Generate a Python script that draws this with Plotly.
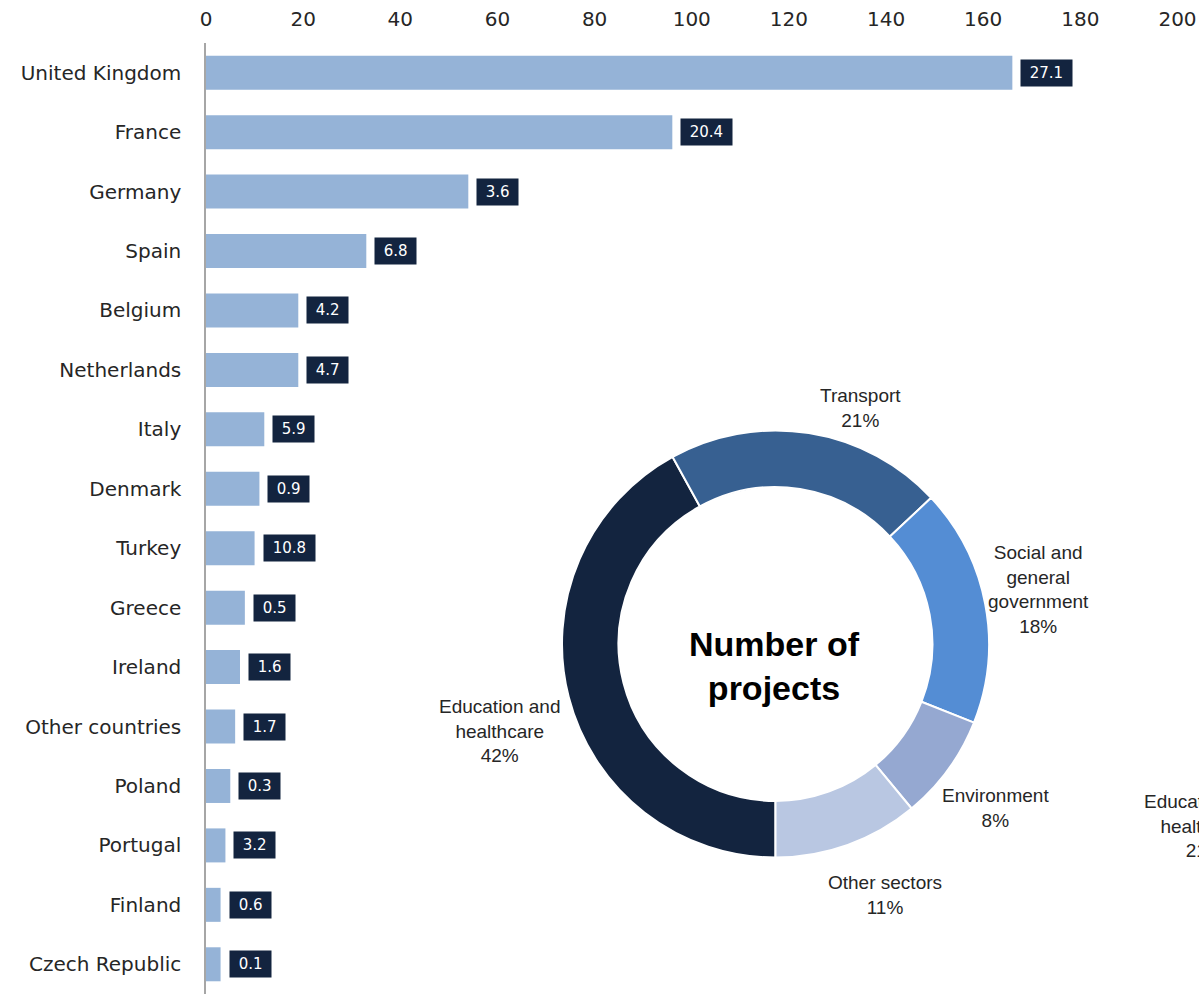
import plotly.graph_objects as go

# ---------------- data ----------------
countries = ["United Kingdom", "France", "Germany", "Spain", "Belgium", "Netherlands",
             "Italy", "Denmark", "Turkey", "Greece", "Ireland", "Other countries",
             "Poland", "Portugal", "Finland", "Czech Republic"]
projects = [166, 96, 54, 33, 19, 19, 12, 11, 10, 8, 7, 6, 5, 4, 3, 3]
value_labels = ["27.1", "20.4", "3.6", "6.8", "4.2", "4.7", "5.9", "0.9", "10.8",
                "0.5", "1.6", "1.7", "0.3", "3.2", "0.6", "0.1"]
x_ticks = [0, 20, 40, 60, 80, 100, 120, 140, 160, 180, 200]

sectors = ["Education and healthcare", "Transport", "Social and general government",
           "Environment", "Other sectors"]
sector_share = [42, 21, 18, 8, 11]
sector_text = ["Education and<br>healthcare", "Transport", "Social and<br>general<br>government",
               "Environment", "Other sectors"]
sector_colors = ["#13243F", "#376091", "#548DD4", "#95A8D1", "#B9C7E2"]
donut_title = "Number of<br>projects"
partial_label = "Education and<br>healthcare<br>21%"

# ---------------- layout helpers ----------------
W, H = 1199, 994
MT, MB, ML, MR = 43, 0, 0, 0
PH = H - MT - MB


def fx(px):
    return (px - ML) / (W - ML - MR)


def fy(py):
    return (H - MB - py) / PH


fig = go.Figure()

fig.add_trace(go.Bar(
    y=countries, x=projects, orientation="h",
    marker=dict(color="#95B3D7", line=dict(width=0)),
    hoverinfo="x+y", showlegend=False,
))

annotations = []
for c, v, t in zip(countries, projects, value_labels):
    annotations.append(dict(
        x=v, y=c, xref="x", yref="y", text="\u00a0" + t + "\u00a0",
        showarrow=False, xanchor="left", yanchor="middle", xshift=8,
        bgcolor="#13243F", borderpad=4,
        font=dict(family="DejaVu Sans", size=15, color="white"),
    ))

# donut
fig.add_trace(go.Pie(
    labels=sectors, values=sector_share, hole=0.735, sort=False,
    direction="clockwise", rotation=180,
    marker=dict(colors=sector_colors, line=dict(color="white", width=2)),
    textinfo="none", showlegend=False,
    domain=dict(x=[fx(562), fx(989)], y=[fy(858), fy(430)]),
))

label_pos = [(500, 731), (860, 408), (1038, 589), (995, 808), (885, 895)]
for txt, share, (lx, ly) in zip(sector_text, sector_share, label_pos):
    annotations.append(dict(
        x=fx(lx), y=fy(ly), xref="paper", yref="paper",
        text=f"{txt}<br>{share}%", showarrow=False, align="center",
        xanchor="center", yanchor="middle",
        font=dict(family="Liberation Sans", size=19, color="#262626"),
    ))

annotations.append(dict(
    x=fx(774), y=fy(666), xref="paper", yref="paper", text="<b>" + donut_title + "</b>",
    showarrow=False, align="center", xanchor="center", yanchor="middle",
    font=dict(family="Liberation Sans", size=34, color="black"),
))

annotations.append(dict(
    x=fx(1142), y=fy(826), xref="paper", yref="paper", text=partial_label,
    showarrow=False, align="center", xanchor="left", yanchor="middle",
    font=dict(family="Liberation Sans", size=19, color="#262626"),
))

fig.update_layout(
    width=W, height=H,
    margin=dict(l=ML, r=MR, t=MT, b=MB, pad=0, autoexpand=False),
    paper_bgcolor="white", plot_bgcolor="white",
    bargap=0.428,
    annotations=annotations,
    xaxis=dict(
        domain=[fx(206), fx(1177.5)], range=[0, 200], side="top",
        tickvals=x_ticks, showgrid=False, zeroline=False, showline=False,
        ticks="", ticklabelstandoff=12, automargin=False,
        tickfont=dict(family="DejaVu Sans", size=20, color="#262626"),
    ),
    yaxis=dict(
        autorange="reversed", showgrid=False, zeroline=False,
        showline=True, linecolor="#A6A6A6", linewidth=1.5,
        ticks="", ticklabelstandoff=19, automargin=False,
        tickfont=dict(family="DejaVu Sans", size=20, color="#262626"),
    ),
)

fig.write_html("out.html")
